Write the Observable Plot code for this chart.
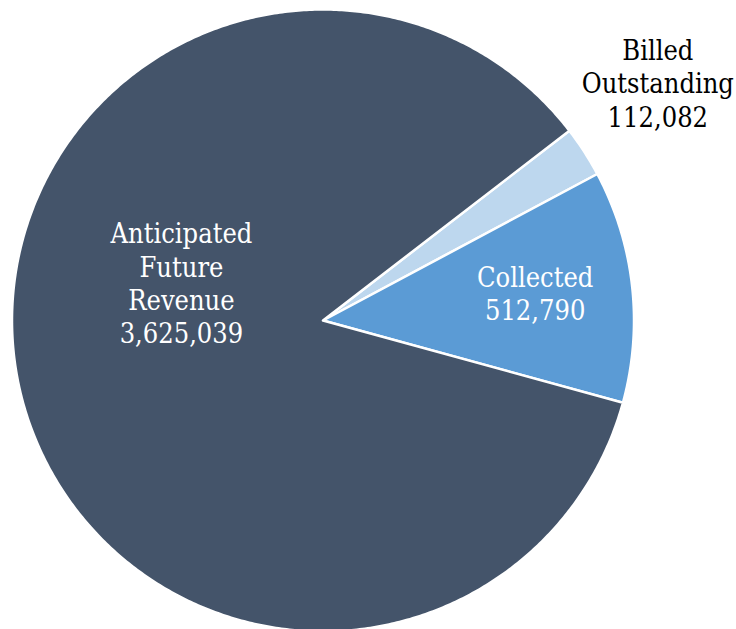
<!DOCTYPE html>
<html>
<head>
<meta charset="utf-8">
<script src="https://cdn.jsdelivr.net/npm/d3@7"></script>
<script src="https://cdn.jsdelivr.net/npm/@observablehq/plot@0.6"></script>
<style>
  html, body { margin: 0; padding: 0; background: #fff; }
  #chart svg { display: block; }
</style>
</head>
<body>
<div id="chart"></div>
<script>
// Data
const categories = ["Billed Outstanding", "Collected", "Anticipated Future Revenue"];
const labels = ["Billed\nOutstanding", "Collected", "Anticipated\nFuture\nRevenue"];
const values = [112082, 512790, 3625039];
const colors = ["#BDD7EE", "#5B9BD5", "#44546A"];

const fmt = d3.format(",");
const startDeg = 52.4; // first slice edge, clockwise from 12 o'clock

const pie = d3.pie().sort(null).value(d => d.value)
  .startAngle(startDeg * Math.PI / 180)
  .endAngle(startDeg * Math.PI / 180 + 2 * Math.PI);
const arcs = pie(categories.map((c, i) => ({name: c, label: labels[i], value: values[i]})));

// polygon points for each slice (in unit-circle data coordinates)
const pts = [];
for (const a of arcs) {
  const name = a.data.name;
  pts.push({name, x: 0, y: 0});
  const n = Math.max(2, Math.ceil((a.endAngle - a.startAngle) / (Math.PI / 360)));
  for (let k = 0; k <= n; k++) {
    const t = a.startAngle + (a.endAngle - a.startAngle) * k / n;
    pts.push({name, x: Math.sin(t), y: Math.cos(t)});
  }
  pts.push({name, x: 0, y: 0});
}

// label layout (style: radius factor & pixel nudges)
const layout = {
  "Billed Outstanding": {r: 1.316, dx: -9, dy: -16, fill: "#000"},
  "Collected": {r: 0.68, dx: 2, dy: -4, fill: "#fff"},
  "Anticipated Future Revenue": {r: 0.5, dx: 11, dy: -68, fill: "#fff"}
};
const labelData = arcs.map(a => {
  const m = (a.startAngle + a.endAngle) / 2;
  const L = layout[a.data.name];
  return {
    name: a.data.name,
    text: a.data.label + "\n" + fmt(a.data.value),
    x: L.r * Math.sin(m), y: L.r * Math.cos(m),
    dx: L.dx, dy: L.dy, fill: L.fill
  };
});

const cx = 322.5, cy = 320, R = 311;
const textMarks = labelData.map(d => Plot.text([d], {
  x: "x", y: "y", text: "text",
  dx: d.dx, dy: d.dy,
  fill: d.fill,
  fontFamily: "'DejaVu Serif Condensed', 'DejaVu Serif', serif",
  fontSize: 27,
  lineHeight: 1.24,
  textAnchor: "middle"
}));

const chart = Plot.plot({
  width: 736,
  height: 629,
  margin: 0,
  x: {domain: [-1, 1], range: [cx - R, cx + R], axis: null},
  y: {domain: [-1, 1], range: [cy + R, cy - R], axis: null},
  color: {domain: categories, range: colors},
  style: {background: "#fff"},
  marks: [
    Plot.line(pts, {
      x: "x", y: "y", z: "name",
      fill: "name",
      stroke: "#fff",
      strokeWidth: 2.5,
      strokeLinejoin: "round",
      curve: "linear"
    }),
    ...textMarks
  ]
});
document.getElementById("chart").appendChild(chart);
</script>
</body>
</html>
